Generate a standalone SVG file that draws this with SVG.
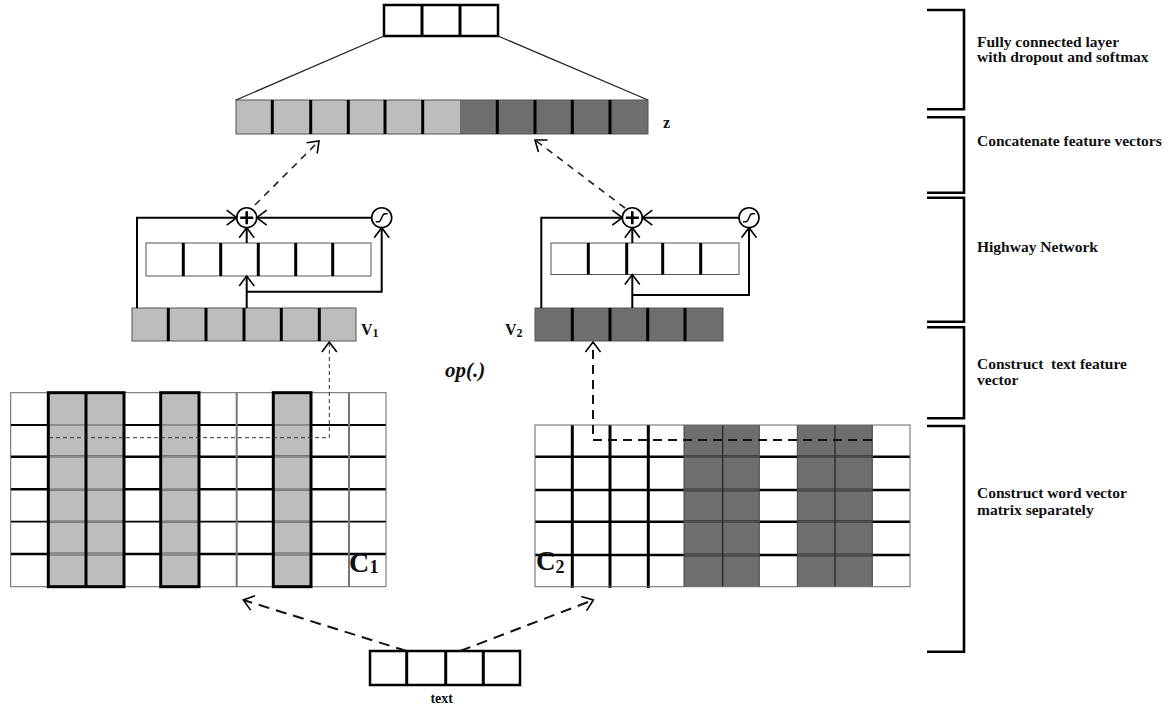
<svg xmlns="http://www.w3.org/2000/svg" xmlns:xlink="http://www.w3.org/1999/xlink" width="1171" height="709" viewBox="0 0 1171 709">
  <style>
    .lbl { font-family: "Liberation Serif", "Times New Roman", serif; font-weight: bold; fill: #111; }
    .side { font-size: 15.5px; }
    .cellbox { stroke: #555; stroke-width: 1; }
    .div { stroke: #000; stroke-width: 3; }
    .light { fill: #bdbdbd; }
    .dark { fill: #6e6e6e; }
    .wire { fill: none; stroke: #000; stroke-width: 2; }
    .dash { fill: none; stroke: #222; stroke-width: 1.6; stroke-dasharray: 7 6; }
    .brk { fill: none; stroke: #000; stroke-width: 2.6; }
    .node { fill: #fff; stroke: #000; stroke-width: 1.6; }
  </style>
  <defs>
    <marker id="arr" viewBox="-12 -9 14 18" markerWidth="14" markerHeight="18" refX="0" refY="0" orient="auto" markerUnits="userSpaceOnUse">
      <path d="M-10,-7.5 L0,0 L-10,7.5" fill="none" stroke="#000" stroke-width="1.6"/>
    </marker>
    <clipPath id="c1-gray">
      <rect x="48.3" y="392" width="75.7" height="196"/>
      <rect x="160.7" y="392" width="38.3" height="196"/>
      <rect x="273.3" y="392" width="37.7" height="196"/>
    </clipPath>
    <clipPath id="c2-dark">
      <rect x="684" y="424" width="75.3" height="164"/>
      <rect x="797.3" y="424" width="75" height="164"/>
    </clipPath>
    <g id="c1-rows">
      <line x1="10.7" y1="425" x2="386" y2="425" stroke-width="2"/>
      <line x1="10.7" y1="456.7" x2="386" y2="456.7" stroke-width="2.6"/>
      <line x1="10.7" y1="489.3" x2="386" y2="489.3" stroke-width="2.6"/>
      <line x1="10.7" y1="521.7" x2="386" y2="521.7" stroke-width="1.8"/>
      <line x1="10.7" y1="554" x2="386" y2="554" stroke-width="2.6"/>
    </g>
    <g id="c2-rows">
      <line x1="535" y1="456.7" x2="910" y2="456.7" stroke-width="2.6"/>
      <line x1="535" y1="490" x2="910" y2="490" stroke-width="2.6"/>
      <line x1="535" y1="521.7" x2="910" y2="521.7" stroke-width="2.6"/>
      <line x1="535" y1="555" x2="910" y2="555" stroke-width="2.6"/>
    </g>
  </defs>

  <rect width="1171" height="709" fill="#fff"/>

  <!-- softmax output layer -->
  <g id="output">
    <rect x="384" y="5" width="114" height="31" fill="#fff" stroke="#000" stroke-width="2.5"/>
    <line x1="422" y1="5" x2="422" y2="36" class="div" stroke-width="2.5"/>
    <line x1="460" y1="5" x2="460" y2="36" class="div" stroke-width="2.5"/>
  </g>

  <!-- concatenated feature vector z -->
  <g id="z-vector">
    <rect x="236" y="100" width="224" height="34" class="light"/>
    <rect x="460" y="100" width="188" height="34" class="dark"/>
    <rect x="236" y="100" width="412" height="34" fill="none" class="cellbox"/>
    <line x1="272.3" y1="100" x2="272.3" y2="134" class="div"/>
    <line x1="310.7" y1="100" x2="310.7" y2="134" class="div"/>
    <line x1="348.3" y1="100" x2="348.3" y2="134" class="div"/>
    <line x1="385" y1="100" x2="385" y2="134" class="div"/>
    <line x1="422.7" y1="100" x2="422.7" y2="134" class="div"/>
    <line x1="497.3" y1="100" x2="497.3" y2="134" class="div"/>
    <line x1="535" y1="100" x2="535" y2="134" class="div"/>
    <line x1="572.3" y1="100" x2="572.3" y2="134" class="div"/>
    <line x1="610" y1="100" x2="610" y2="134" class="div"/>
    <text x="663" y="128" class="lbl" font-size="16">z</text>
  </g>

  <!-- highway network, branch 1 -->
  <g id="hw1-layer">
    <rect x="146" y="243" width="225" height="33" fill="#fff" class="cellbox"/>
    <line x1="183.3" y1="243" x2="183.3" y2="276" class="div"/>
    <line x1="220.7" y1="243" x2="220.7" y2="276" class="div"/>
    <line x1="258.3" y1="243" x2="258.3" y2="276" class="div"/>
    <line x1="295.7" y1="243" x2="295.7" y2="276" class="div"/>
    <line x1="332.7" y1="243" x2="332.7" y2="276" class="div"/>
  </g>
  <g id="v1">
    <rect x="132" y="308" width="224" height="33" class="light cellbox"/>
    <line x1="168.3" y1="308" x2="168.3" y2="341" class="div"/>
    <line x1="206" y1="308" x2="206" y2="341" class="div"/>
    <line x1="244" y1="308" x2="244" y2="341" class="div"/>
    <line x1="281.3" y1="308" x2="281.3" y2="341" class="div"/>
    <line x1="319.3" y1="308" x2="319.3" y2="341" class="div"/>
    <text x="361" y="335" class="lbl" font-size="16">V<tspan font-size="12" dy="2">1</tspan></text>
  </g>

  <!-- highway network, branch 2 -->
  <g id="hw2-layer">
    <rect x="551" y="243" width="188" height="31.5" fill="#fff" class="cellbox"/>
    <line x1="588.3" y1="243" x2="588.3" y2="274.5" class="div"/>
    <line x1="626.7" y1="243" x2="626.7" y2="274.5" class="div"/>
    <line x1="662.7" y1="243" x2="662.7" y2="274.5" class="div"/>
    <line x1="700.7" y1="243" x2="700.7" y2="274.5" class="div"/>
  </g>
  <g id="v2">
    <rect x="535" y="308" width="188" height="33" class="dark cellbox"/>
    <line x1="572.3" y1="308" x2="572.3" y2="341" class="div"/>
    <line x1="610" y1="308" x2="610" y2="341" class="div"/>
    <line x1="647.7" y1="308" x2="647.7" y2="341" class="div"/>
    <line x1="685" y1="308" x2="685" y2="341" class="div"/>
    <text x="505" y="335" class="lbl" font-size="16">V<tspan font-size="12" dy="2">2</tspan></text>
  </g>

  <text id="op" x="445" y="377" class="lbl" font-size="21" font-style="italic">op(.)</text>

  <!-- word vector matrix C1 -->
  <g id="c1">
    <rect x="10.7" y="392.7" width="375.3" height="194" fill="#fff"/>
    <rect x="48.3" y="392.7" width="75.7" height="194" class="light"/>
    <rect x="160.7" y="392.7" width="38.3" height="194" class="light"/>
    <rect x="273.3" y="392.7" width="37.7" height="194" class="light"/>
    <use xlink:href="#c1-rows" href="#c1-rows" stroke="#000"/>
    <use xlink:href="#c1-rows" href="#c1-rows" stroke="#8c8c8c" clip-path="url(#c1-gray)"/>
    <line x1="236.7" y1="392.7" x2="236.7" y2="586.7" stroke="#777" stroke-width="2"/>
    <line x1="349" y1="392.7" x2="349" y2="586.7" stroke="#777" stroke-width="2"/>
    <rect x="10.7" y="392.7" width="375.3" height="194" fill="none" stroke="#666" stroke-width="1"/>
    <rect x="48.3" y="392.7" width="75.7" height="194" fill="none" stroke="#000" stroke-width="3"/>
    <line x1="86" y1="392.7" x2="86" y2="586.7" class="div"/>
    <rect x="160.7" y="392.7" width="38.3" height="194" fill="none" stroke="#000" stroke-width="3"/>
    <rect x="273.3" y="392.7" width="37.7" height="194" fill="none" stroke="#000" stroke-width="3"/>
    <text x="349" y="572" class="lbl" font-size="28">C<tspan font-size="19" dy="1">1</tspan></text>
  </g>

  <!-- word vector matrix C2 -->
  <g id="c2">
    <rect x="535" y="425" width="375" height="161.7" fill="#fff"/>
    <rect x="684" y="425" width="75.3" height="161.7" class="dark"/>
    <rect x="797.3" y="425" width="75" height="161.7" class="dark"/>
    <use xlink:href="#c2-rows" href="#c2-rows" stroke="#000"/>
    <use xlink:href="#c2-rows" href="#c2-rows" stroke="#4e4e4e" clip-path="url(#c2-dark)"/>
    <line x1="572.3" y1="425" x2="572.3" y2="588" class="div"/>
    <line x1="610" y1="425" x2="610" y2="588" class="div"/>
    <line x1="648.3" y1="425" x2="648.3" y2="588" class="div"/>
    <line x1="684" y1="425" x2="684" y2="586.7" stroke="#444" stroke-width="1"/>
    <line x1="722.7" y1="425" x2="722.7" y2="586.7" stroke="#222" stroke-width="1.2"/>
    <line x1="759.3" y1="425" x2="759.3" y2="586.7" stroke="#444" stroke-width="1"/>
    <line x1="797.3" y1="425" x2="797.3" y2="586.7" stroke="#444" stroke-width="1"/>
    <line x1="835" y1="425" x2="835" y2="586.7" stroke="#222" stroke-width="1.2"/>
    <line x1="872.3" y1="425" x2="872.3" y2="586.7" stroke="#444" stroke-width="1"/>
    <rect x="535" y="425" width="375" height="161.7" fill="none" stroke="#666" stroke-width="1"/>
    <text x="536" y="570" class="lbl" font-size="27">C<tspan font-size="18" dy="3">2</tspan></text>
  </g>

  <!-- input text -->
  <g id="input-text">
    <rect x="370" y="651" width="150" height="34" fill="#fff" stroke="#000" stroke-width="2.5"/>
    <line x1="406.7" y1="651" x2="406.7" y2="685" class="div" stroke-width="2.5"/>
    <line x1="445.7" y1="651" x2="445.7" y2="685" class="div" stroke-width="2.5"/>
    <line x1="483.3" y1="651" x2="483.3" y2="685" class="div" stroke-width="2.5"/>
    <text x="441.7" y="703" class="lbl" font-size="14" text-anchor="middle">text</text>
  </g>

  <!-- gate operators -->
  <g id="sum1">
    <circle cx="246.7" cy="217.7" r="10" class="node"/>
    <path d="M240.2,217.7 H253.2 M246.7,211.2 V224.2" stroke="#000" stroke-width="2.6"/>
  </g>
  <g id="gate1">
    <circle cx="381.7" cy="217.7" r="10" class="node"/>
    <path d="M375.7,221.7 H378.7 C381.7,221.7 381.7,213.7 384.7,213.7 H387.7" fill="none" stroke="#000" stroke-width="1.4"/>
  </g>
  <g id="sum2">
    <circle cx="632.3" cy="217.7" r="10" class="node"/>
    <path d="M625.8,217.7 H638.8 M632.3,211.2 V224.2" stroke="#000" stroke-width="2.6"/>
  </g>
  <g id="gate2">
    <circle cx="749" cy="217.7" r="10" class="node"/>
    <path d="M743,221.7 H746 C749,221.7 749,213.7 752,213.7 H755" fill="none" stroke="#000" stroke-width="1.4"/>
  </g>

  <!-- connectors -->
  <g id="connectors">
    <line x1="384" y1="36" x2="236" y2="100" stroke="#222" stroke-width="1.3"/>
    <line x1="498" y1="36" x2="648" y2="100" stroke="#222" stroke-width="1.3"/>

    <path d="M137,308 V217.7 H236.7" class="wire" marker-end="url(#arr)"/>
    <path d="M371.7,217.7 H256.7" class="wire" marker-end="url(#arr)"/>
    <path d="M246.7,243 V227.7" class="wire" marker-end="url(#arr)"/>
    <path d="M246.7,308 V276" class="wire" marker-end="url(#arr)"/>
    <path d="M246.7,291.7 H381.7 V227.7" class="wire" marker-end="url(#arr)"/>

    <path d="M541.3,308 V217.7 H622.3" class="wire" marker-end="url(#arr)"/>
    <path d="M739,217.7 H642.3" class="wire" marker-end="url(#arr)"/>
    <path d="M632.3,243 V227.7" class="wire" marker-end="url(#arr)"/>
    <path d="M632.3,308 V274.5" class="wire" marker-end="url(#arr)"/>
    <path d="M632.3,295 H749 V227.7" class="wire" marker-end="url(#arr)"/>

    <path d="M255,205 L319,141" class="dash" marker-end="url(#arr)"/>
    <path d="M625,208 L535,140" class="dash" marker-end="url(#arr)"/>

    <path d="M49,437.7 H329.3 V342" fill="none" stroke="#333" stroke-width="1" stroke-dasharray="4 3" marker-end="url(#arr)"/>
    <path d="M872,440 H593 V342" fill="none" stroke="#111" stroke-width="2" stroke-dasharray="9 6" marker-end="url(#arr)"/>

    <path d="M406.7,651 L243.3,600" fill="none" stroke="#111" stroke-width="2" stroke-dasharray="11 7" marker-end="url(#arr)"/>
    <path d="M460,651 L593.3,600" fill="none" stroke="#111" stroke-width="2" stroke-dasharray="11 7" marker-end="url(#arr)"/>
  </g>

  <!-- stage brackets -->
  <g id="stage-fc">
    <path d="M927,10 H964 V109.3 H927" class="brk"/>
    <text x="977" y="46.7" class="lbl side">Fully connected layer</text>
    <text x="977" y="62.3" class="lbl side">with dropout and softmax</text>
  </g>
  <g id="stage-concat">
    <path d="M927,117.3 H964 V192.7 H927" class="brk"/>
    <text x="977" y="145.7" class="lbl side">Concatenate feature vectors</text>
  </g>
  <g id="stage-highway">
    <path d="M927,197.7 H964 V321.7 H927" class="brk"/>
    <text x="977" y="252.3" class="lbl side">Highway Network</text>
  </g>
  <g id="stage-feature">
    <path d="M927,327.3 H964 V418.3 H927" class="brk"/>
    <text x="977" y="369" class="lbl side" xml:space="preserve">Construct  text feature</text>
    <text x="977" y="385" class="lbl side">vector</text>
  </g>
  <g id="stage-matrix">
    <path d="M927,426 H964 V651.7 H927" class="brk"/>
    <text x="977" y="498.3" class="lbl side">Construct word vector</text>
    <text x="977" y="515" class="lbl side">matrix separately</text>
  </g>
</svg>
